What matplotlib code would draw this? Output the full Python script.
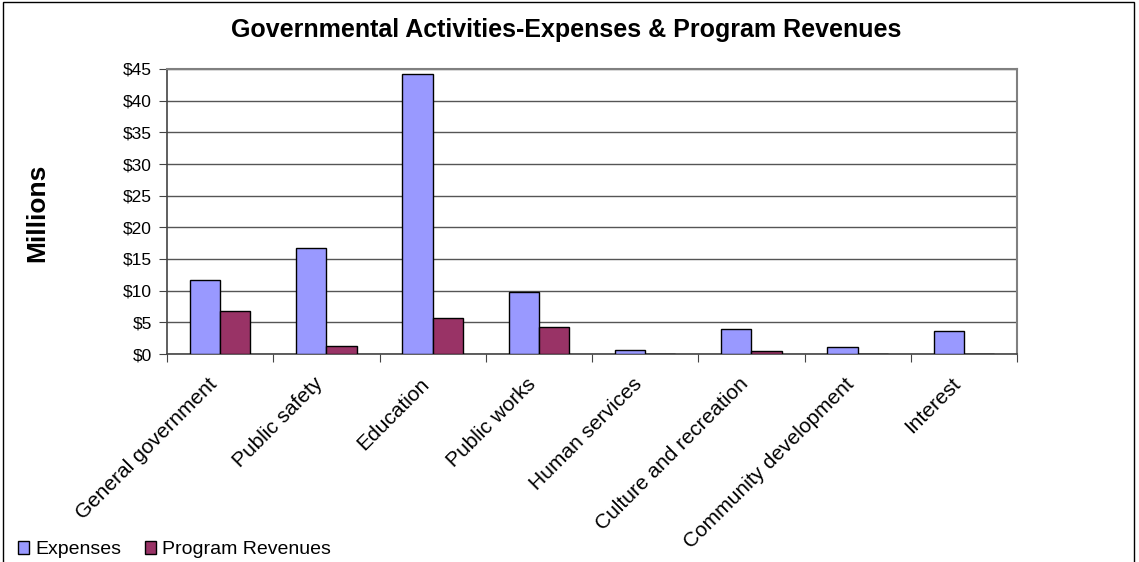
import numpy as np
import matplotlib.pyplot as plt
from matplotlib.patches import Rectangle
from matplotlib.transforms import ScaledTranslation, blended_transform_factory

categories = ["General government", "Public safety", "Education", "Public works",
              "Human services", "Culture and recreation", "Community development",
              "Interest"]
expenses = [11.7, 16.8, 44.2, 9.8, 0.6, 3.9, 1.05, 3.7]
revenues = [6.75, 1.2, 5.75, 4.3, 0.0, 0.4, 0.0, 0.0]
yticks = [0, 5, 10, 15, 20, 25, 30, 35, 40, 45]
ytick_labels = ["$" + str(v) for v in yticks]

plt.rcParams["font.family"] = ["Liberation Sans", "DejaVu Sans"]

fig = plt.figure(figsize=(11.39, 5.62), dpi=100)
ax = fig.add_axes([167 / 1139, 208 / 562, 850 / 1139, 285 / 562])

# whole-chart border (runs off the bottom edge)
fig.patches.append(Rectangle((3 / 1139, -0.05), 1131 / 1139, 1.05 - 2 / 562,
                             transform=fig.transFigure, fill=False,
                             edgecolor="black", linewidth=1.0))

x = np.arange(len(categories))
w = 0.2857
ax.bar(x - w / 2, expenses, w, color="#9999FF", edgecolor="black", linewidth=1.0,
       label="Expenses", zorder=3)
ax.bar(x + w / 2, revenues, w, color="#993366", edgecolor="black", linewidth=1.0,
       label="Program Revenues", zorder=3)

ax.set_xlim(-0.5, len(categories) - 0.5)
ax.set_ylim(0, 45)
ax.set_yticks(yticks)
ax.set_yticklabels(ytick_labels, fontsize=12.5)
ax.yaxis.grid(True, color="#555555", linewidth=1.0, zorder=0)

# category boundaries carry the tick marks; names are placed as rotated text
ax.set_xticks(np.arange(len(categories) + 1) - 0.5)
ax.set_xticklabels([])
trans = blended_transform_factory(ax.transData, ax.transAxes) + \
    ScaledTranslation(-6 / 100, -27 / 100, fig.dpi_scale_trans)
for xi, name in zip(x, categories):
    ax.text(xi, 0, name, transform=trans, rotation=45, ha="right", va="center",
            rotation_mode="anchor", fontsize=15)

ax.tick_params(axis="x", which="major", length=6, color="#444444", direction="out")
ax.tick_params(axis="y", length=6, color="#444444", pad=5)

for s in ["top", "right"]:
    ax.spines[s].set_color("#808080")
    ax.spines[s].set_linewidth(1.5)
for s in ["left", "bottom"]:
    ax.spines[s].set_color("#444444")
    ax.spines[s].set_linewidth(1.2)

fig.text(566 / 1139, 1 - 30 / 562, "Governmental Activities-Expenses & Program Revenues",
         ha="center", va="center", fontsize=18, fontweight="bold")
fig.text(37 / 1139, 1 - 213 / 562, "Millions", rotation=90, ha="center", va="center",
         fontsize=19, fontweight="bold")

fig.legend(loc="lower left", bbox_to_anchor=(6 / 1139, -8 / 562), ncol=2, frameon=False,
           fontsize=14, handlelength=0.6, handleheight=0.6, handletextpad=0.3,
           columnspacing=1.2, borderaxespad=0.2)

fig.savefig("out.png", dpi=100)
